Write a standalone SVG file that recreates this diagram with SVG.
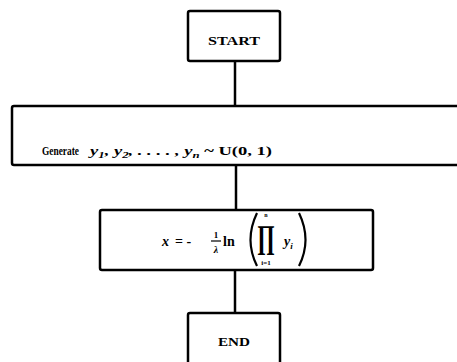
<svg xmlns="http://www.w3.org/2000/svg" width="457" height="362" viewBox="0 0 457 362">
<style>
.box{fill:#fff;stroke:#000;stroke-width:2.5}
.conn{stroke:#000;stroke-width:2.5;fill:none}
.t{font-family:"Liberation Serif","DejaVu Serif",serif;font-weight:bold;fill:#000}
.m{font-family:"Liberation Serif","DejaVu Serif",serif;font-weight:bold;font-style:italic;fill:#000}
.p{fill:none;stroke:#000;stroke-width:2.2}
</style>
<rect width="457" height="362" fill="#fff"/>
<g id="connectors">
<line class="conn" x1="235" y1="61" x2="235" y2="107"/>
<line class="conn" x1="236" y1="165" x2="236" y2="210"/>
<line class="conn" x1="235" y1="270" x2="235" y2="313"/>
</g>
<g id="start">
<rect class="box" x="188" y="11" width="92" height="50" rx="2"/>
<text class="t" x="234" y="45" font-size="12" text-anchor="middle" textLength="52" lengthAdjust="spacingAndGlyphs">START</text>
</g>
<g id="generate">
<rect class="box" x="12" y="106" width="460" height="59" rx="2"/>
<text class="t" x="42" y="155" font-size="12" textLength="37" lengthAdjust="spacingAndGlyphs">Generate</text>
<text class="m" x="90" y="155" font-size="13" textLength="182" lengthAdjust="spacingAndGlyphs">y<tspan font-size="9" dy="3">1</tspan><tspan dy="-3">, y</tspan><tspan font-size="9" dy="3">2</tspan><tspan dy="-3">, . . . . , y</tspan><tspan font-size="9" dy="3">n</tspan><tspan dy="-3" font-style="normal"> ~ U(0, 1)</tspan></text>
</g>
<g id="formula">
<rect class="box" x="100" y="210" width="273" height="60" rx="2"/>
<text class="m" x="162" y="246" font-size="14">x</text>
<text class="t" x="175" y="246" font-size="14">= -</text>
<text class="t" x="216" y="238" font-size="9" text-anchor="middle">1</text>
<line x1="211" y1="241" x2="221" y2="241" stroke="#000" stroke-width="1.2"/>
<text class="m" x="216" y="253" font-size="10" text-anchor="middle">λ</text>
<text class="t" x="223" y="246" font-size="14">ln</text>
<path class="p" d="M257,213 Q244,240 257,266"/>
<text class="t" x="266" y="217" font-size="6" text-anchor="middle">n</text>
<text class="t" x="257" y="248" font-size="33" textLength="18" lengthAdjust="spacingAndGlyphs">∏</text>
<text class="t" x="266" y="265" font-size="7" text-anchor="middle">i=1</text>
<text class="m" x="284" y="246" font-size="14">y<tspan font-size="9" dy="3">i</tspan></text>
<path class="p" d="M299,213 Q312,240 299,266"/>
</g>
<g id="end">
<rect class="box" x="188" y="313" width="92" height="60" rx="2"/>
<text class="t" x="234" y="346" font-size="12" text-anchor="middle" textLength="32" lengthAdjust="spacingAndGlyphs">END</text>
</g>
</svg>
